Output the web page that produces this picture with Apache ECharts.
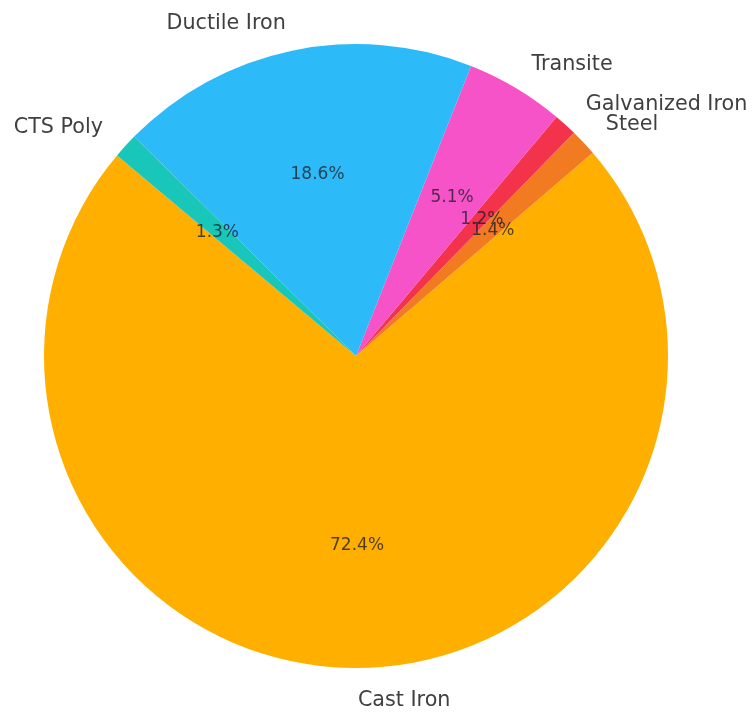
<!DOCTYPE html>
<html>
<head>
<meta charset="utf-8">
<script src="https://cdn.jsdelivr.net/npm/echarts@6/dist/echarts.min.js"></script>
<style>
html,body{margin:0;padding:0;background:#fff;}
#chart{width:756px;height:715px;}
</style>
</head>
<body>
<div id="chart"></div>
<script>
const categories = ['Cast Iron', 'Steel', 'Galvanized Iron', 'Transite', 'Ductile Iron', 'CTS Poly'];
const values = [72.4, 1.4, 1.2, 5.1, 18.6, 1.3];
const colors = ['#FFAF00', '#F27A20', '#F3324C', '#F553C7', '#2DBAF9', '#19C7BA'];

const R = 312;
const center = [356, 356];
const data = categories.map((name, i) => ({ name: name, value: values[i], itemStyle: { color: colors[i] } }));

const chart = echarts.init(document.getElementById('chart'), null, { renderer: 'canvas' });
chart.setOption({
  animation: false,
  backgroundColor: '#ffffff',
  series: [
    {
      type: 'pie',
      center: center,
      radius: [0, R],
      startAngle: 140,
      clockwise: false,
      avoidLabelOverlap: false,
      silent: true,
      data: data,
      itemStyle: { borderWidth: 0 },
      labelLayout: { hideOverlap: false },
      label: {
        show: true,
        position: 'outside',
        formatter: '{b}',
        fontFamily: 'DejaVu Sans',
        fontSize: 20.7,
        color: '#404040',
        distanceToLabelLine: 0,
        bleedMargin: 0,
        offset: [0, 2.5]
      },
      labelLine: { show: false, length: 30.4, length2: 0 }
    },
    {
      type: 'pie',
      center: center,
      radius: [57, R],
      startAngle: 140,
      clockwise: false,
      avoidLabelOverlap: false,
      silent: true,
      data: categories.map((name, i) => ({ name: name, value: values[i] })),
      itemStyle: { color: 'rgba(0,0,0,0)', borderWidth: 0 },
      labelLayout: { hideOverlap: false },
      label: {
        show: true,
        position: 'inside',
        formatter: (p) => p.value.toFixed(1) + '%',
        fontFamily: 'DejaVu Sans',
        fontSize: 17,
        color: 'rgba(30,30,40,0.78)',
        offset: [0, 2.5]
      },
      labelLine: { show: false }
    }
  ]
});
</script>
</body>
</html>
